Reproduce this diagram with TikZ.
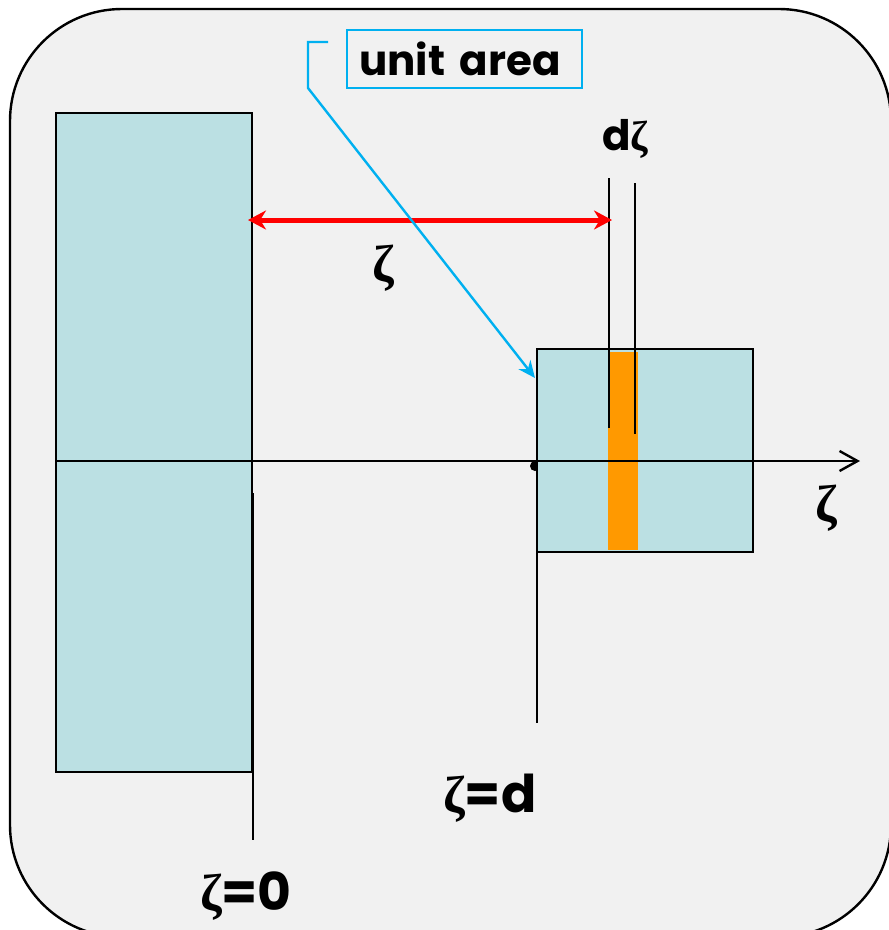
\documentclass[tikz,border=0pt]{standalone}
\usepackage{fontspec}
\setmainfont{Poppins}
\newfontfamily\zfont{Liberation Serif}
\usetikzlibrary{arrows.meta}
\definecolor{bgray}{HTML}{F1F1F1}
\definecolor{plate}{HTML}{BBE0E3}
\definecolor{orng}{HTML}{FF9900}
\definecolor{cyanline}{HTML}{00B0F0}
\newcommand\zt{{\zfont\bfseries ζ}}
\begin{document}
\begin{tikzpicture}[x=1pt,y=-1pt,
  platebox/.style={draw=black,line width=2.4pt,fill=plate,inner sep=0pt,outer sep=0pt},
  thin line/.style={draw=black,line width=2.4pt},
  lbl/.style={inner sep=0pt,font=\bfseries\fontsize{52}{60}\selectfont},
  smalllbl/.style={inner sep=0pt,font=\bfseries\fontsize{42}{48}\selectfont}]
\useasboundingbox (0,0) rectangle (889,930);
\clip (0,0) rectangle (889,930);
\fill[white] (0,0) rectangle (889,930);
\draw[line width=2.4pt,fill=bgray,rounded corners=112pt] (10,9) rectangle (891,937);
% origin dot (partly hidden by the block)
\fill (535,466) circle (5pt);
% plates
\node[platebox,minimum width=196pt,minimum height=659pt] (left) at (154,442.5) {};
\node[platebox,minimum width=216pt,minimum height=203pt] (right) at (645,450.5) {};
% orange slab
\node[fill=orng,inner sep=0pt,minimum width=30pt,minimum height=198pt] (slab) at (623,451) {};
% axis
\coordinate (axs) at (56,461);
\coordinate (axe) at (860,461);
\draw[line width=2.4pt,-{Straight Barb[length=18pt,width=20pt,line width=2.4pt]}] (axs) -- (axe);
% reference lines
\coordinate (z0a) at (253,493);
\coordinate (z0b) at (253,840);
\draw[thin line] (z0a) -- (z0b);
\coordinate (zda) at (537,552);
\coordinate (zdb) at (537,723);
\draw[thin line] (zda) -- (zdb);
% d zeta lines
\coordinate (dz1a) at (609,178);
\coordinate (dz1b) at (609,428);
\coordinate (dz2a) at (635,183);
\coordinate (dz2b) at (635,434);
\draw[thin line] (dz1a) -- (dz1b);
\draw[thin line] (dz2a) -- (dz2b);
% red arrow
\coordinate (ra) at (248,220);
\coordinate (rb) at (612,220);
\draw[red,line width=5pt,{Stealth[length=18pt,width=19pt]}-{Stealth[length=18pt,width=19pt]}] (ra) -- (rb);
% labels
\node[lbl] (zlab) at (383,268) {\zt};
\node[smalllbl,anchor=base] (dzlab) at (625,150) {d\zt};
\node[lbl] (zaxlab) at (826,508) {\zt};
\node[lbl,anchor=base] (zdlab) at (490,812) {\zt=d};
\node[lbl,anchor=base] (z0lab) at (246,910) {\zt=0};
% callout
\node[draw=cyanline,line width=2.4pt,fill=bgray,minimum width=235pt,minimum height=58pt,inner sep=0pt] (ua) at (464.5,59) {};
\node[smalllbl,anchor=base west] (uatext) at (359,75) {unit\hspace{0.35em}area};
\coordinate (c1) at (328,42);
\coordinate (c2) at (308,42);
\coordinate (c3) at (308,88);
\coordinate (ctip) at (535,378);
\draw[cyanline,line width=2.4pt,-{Stealth[length=17pt,width=15pt]}] (c1) -- (c2) -- (c3) -- (ctip);
\end{tikzpicture}
\end{document}
